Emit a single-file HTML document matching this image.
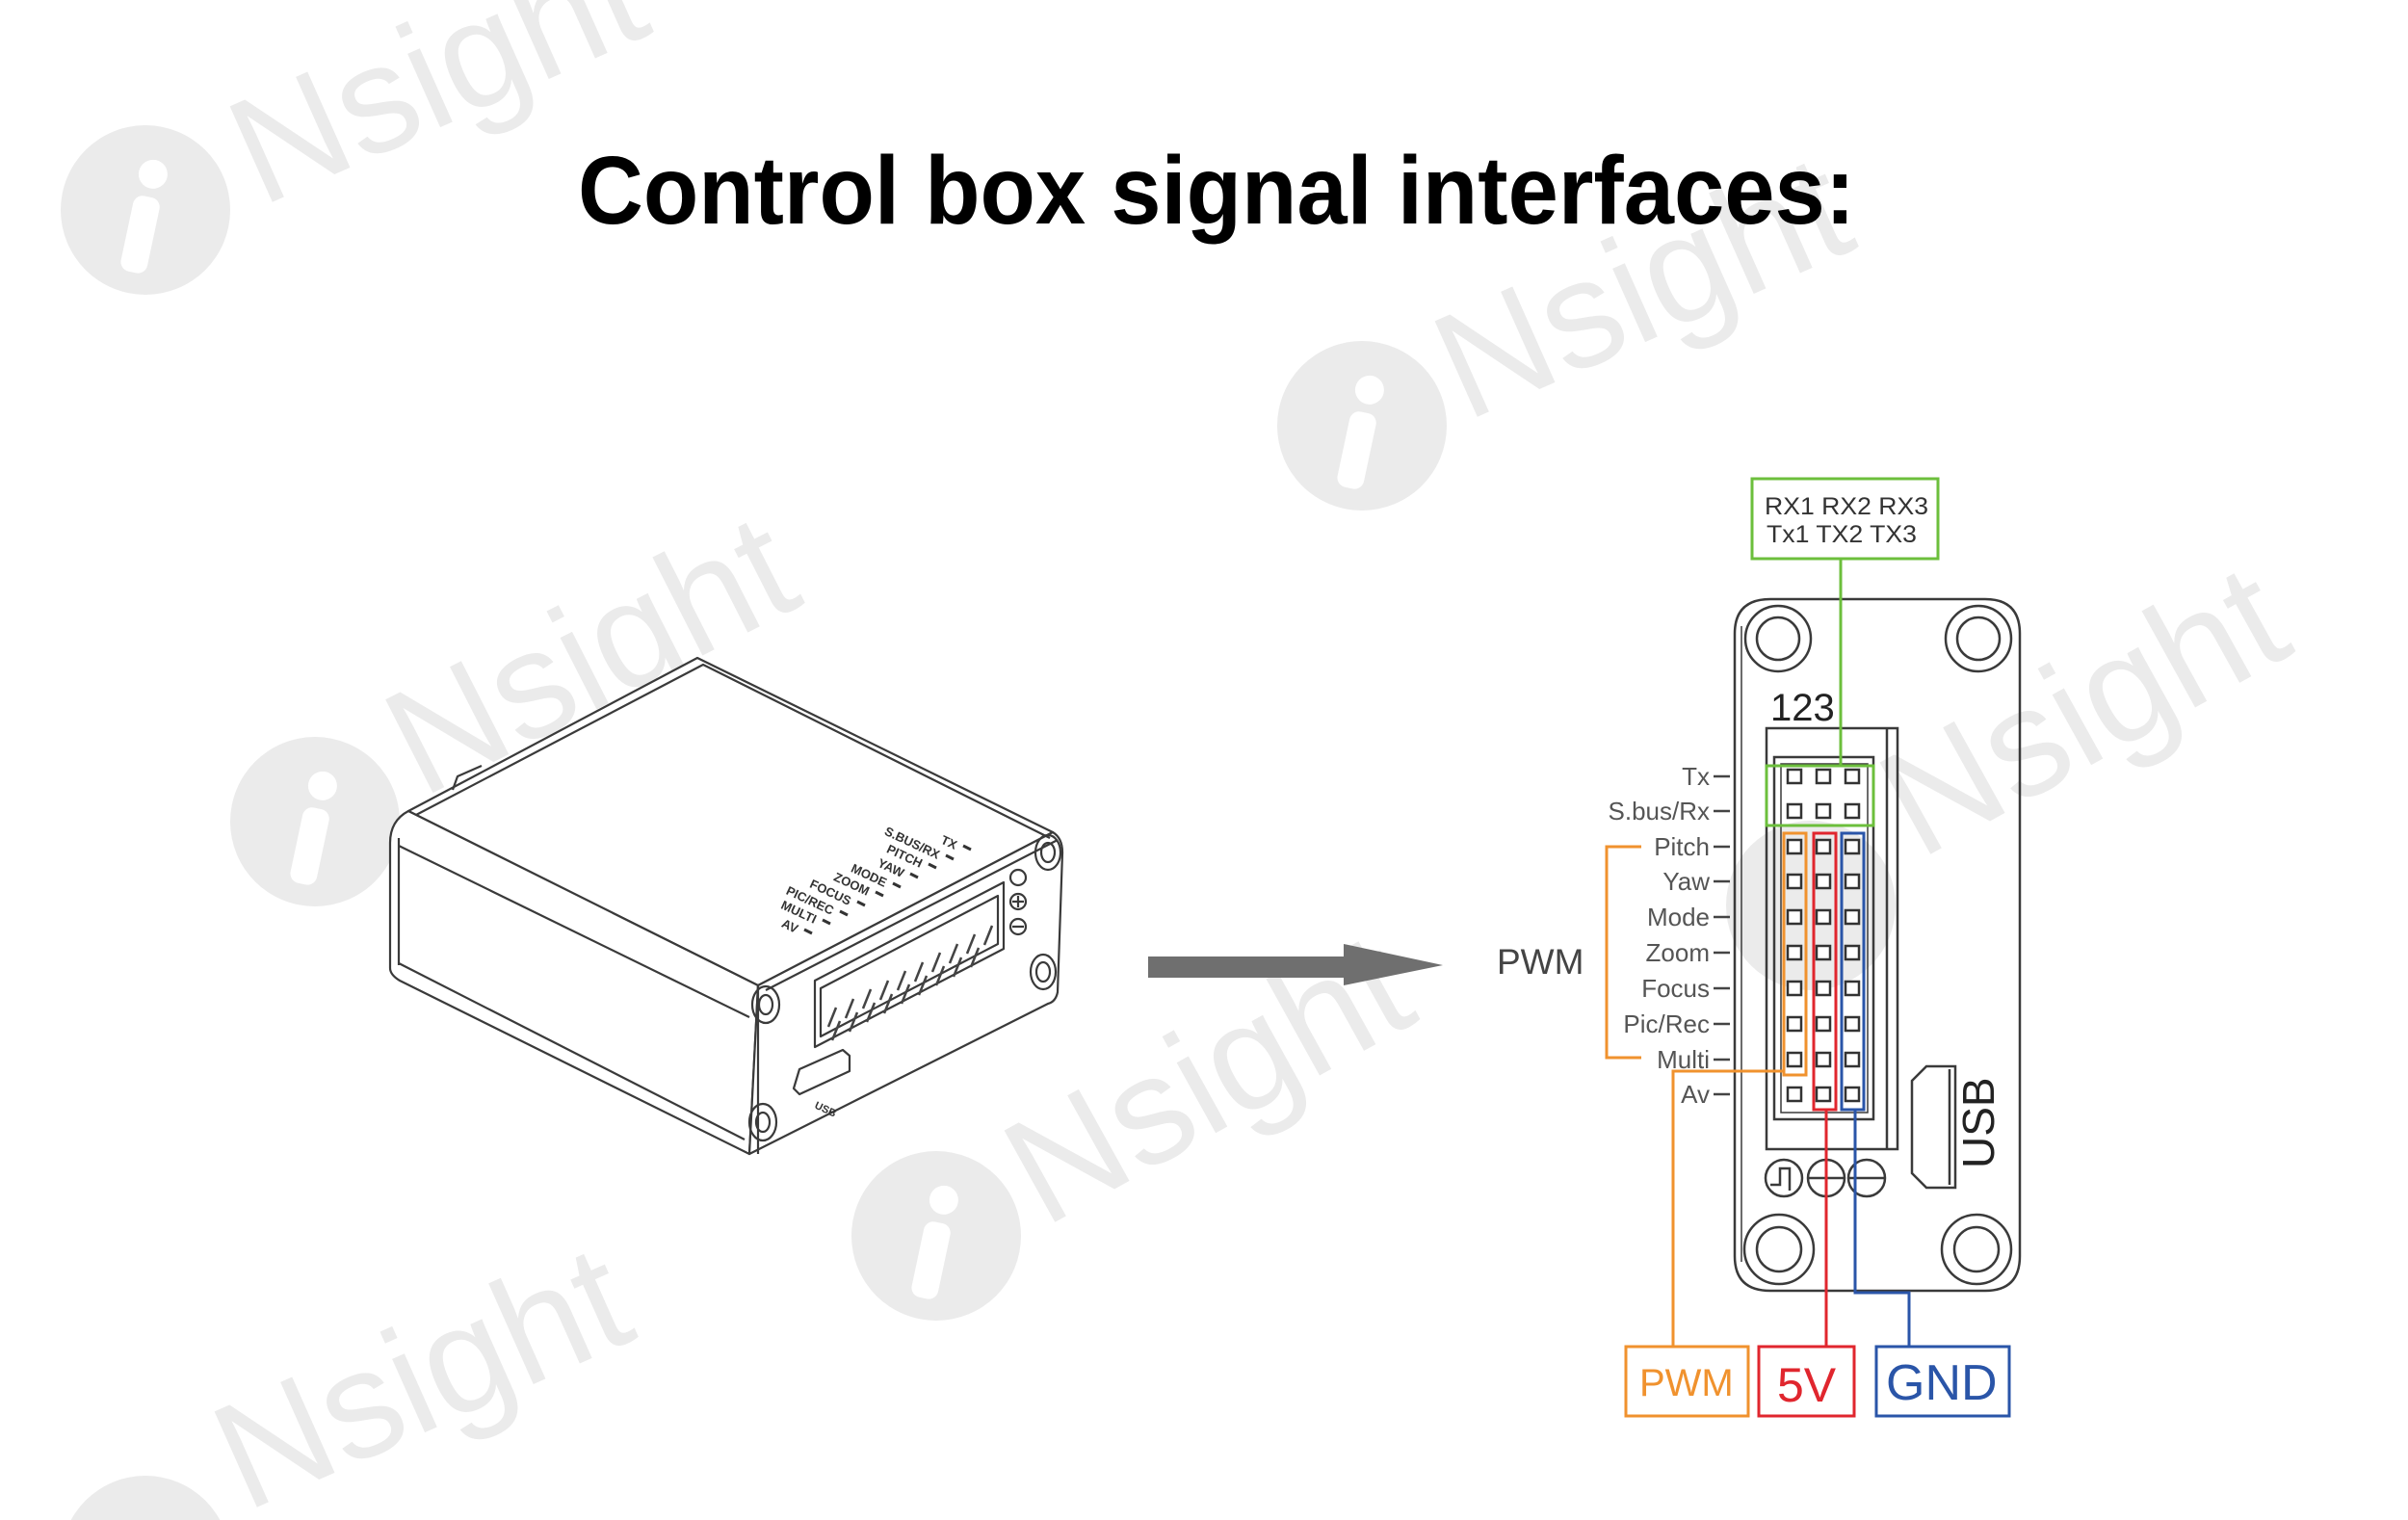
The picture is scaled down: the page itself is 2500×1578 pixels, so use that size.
<!DOCTYPE html>
<html><head><meta charset="utf-8"><style>
html,body{margin:0;padding:0;background:#fff;width:2500px;height:1578px;overflow:hidden}
svg{display:block}
</style></head><body>
<svg width="2500" height="1578" viewBox="0 0 2500 1578" xmlns="http://www.w3.org/2000/svg" font-family="'Liberation Sans', sans-serif">
<defs>
  <g id="row">
    <rect x="1856" y="-7" width="14" height="14"/><rect x="1886" y="-7" width="14" height="14"/><rect x="1916" y="-7" width="14" height="14"/>
  </g>
</defs>
<rect width="2500" height="1578" fill="#fff"/>
<!-- watermarks -->
<g fill="#ebebeb">
  <g transform="translate(151,218)"><circle r="88"/><g transform="rotate(12)" fill="#fff"><circle cx="0" cy="-38" r="15"/><rect x="-14" y="-14" width="28" height="80" rx="10"/></g></g>
  <text x="271" y="215" font-size="158" transform="rotate(-24 271 215)">Nsight</text>
  <g transform="translate(1414,442)"><circle r="88"/><g transform="rotate(12)" fill="#fff"><circle cx="0" cy="-38" r="15"/><rect x="-14" y="-14" width="28" height="80" rx="10"/></g></g>
  <text x="1522" y="438" font-size="158" transform="rotate(-24 1522 438)">Nsight</text>
  <g transform="translate(327,853)"><circle r="88"/><g transform="rotate(12)" fill="#fff"><circle cx="0" cy="-38" r="15"/><rect x="-14" y="-14" width="28" height="80" rx="10"/></g></g>
  <text x="438" y="829" font-size="158" transform="rotate(-27 438 829)">Nsight</text>
  <g transform="translate(1880,940)"><circle r="88"/></g>
  <text x="1993" y="893" font-size="158" transform="rotate(-29 1993 893)">Nsight</text>
  <g transform="translate(972,1283)"><circle r="88"/><g transform="rotate(12)" fill="#fff"><circle cx="0" cy="-38" r="15"/><rect x="-14" y="-14" width="28" height="80" rx="10"/></g></g>
  <text x="1084" y="1275" font-size="158" transform="rotate(-29 1084 1275)">Nsight</text>
  <g transform="translate(151,1620)"><circle r="88"/></g>
  <text x="255" y="1570" font-size="158" transform="rotate(-24 255 1570)">Nsight</text>
</g>

<!-- title -->
<text x="600" y="232" font-size="100" font-weight="bold" fill="#000" textLength="1326" lengthAdjust="spacingAndGlyphs">Control box signal interfaces:</text>

<!-- 3D box -->
<g fill="none" stroke="#3a3a3a" stroke-width="2.2" stroke-linejoin="round">
  <path d="M424,842 L724,683 L1093,864 L787,1023 Z" fill="#fff"/>
  <path d="M424,842 Q405,852 405,875 L405,1005 Q405,1012 415,1018 L778,1198 L787,1023 Z" fill="#fff"/>
  <path d="M787,1023 L1093,864 Q1103,870 1103,885 L1098,1030 Q1096,1040 1088,1042 L778,1198 Z" fill="#fff"/>
  <path d="M414,878 L778,1056"/>
  <path d="M414,1000 L773,1183"/>
  <path d="M414,870 L414,1002"/>
  <path d="M432,846 L730,690 L1090,870"/>
  <path d="M470,820 L475,806 L500,795"/>
  <path d="M795,1028 L1098,872"/>
  <path d="M787,1023 L787,1198"/>
  <ellipse cx="795" cy="1043" rx="14" ry="19"/><ellipse cx="795" cy="1043" rx="7" ry="10"/>
  <ellipse cx="1088" cy="885" rx="13" ry="18"/><ellipse cx="1088" cy="885" rx="7" ry="10"/>
  <ellipse cx="1083" cy="1009" rx="13" ry="18"/><ellipse cx="1083" cy="1009" rx="7" ry="10"/>
  <ellipse cx="792" cy="1165" rx="14" ry="19"/><ellipse cx="792" cy="1165" rx="7" ry="10"/>
  <path d="M846,1018 L1042,916 L1042,985 L846,1087 Z"/>
  <path d="M852,1026 L1036,930 L1036,980 L852,1076 Z"/>
  <circle cx="1057" cy="911" r="8"/><circle cx="1057" cy="936" r="8"/><circle cx="1057" cy="962" r="8"/>
  <path d="M1051,936 h12 M1057,930 v12 M1051,962 h12"/>
  <path d="M830,1110 L875,1090 L882,1096 L882,1112 L830,1136 L824,1130 Z"/>
</g>
<g stroke="#444" stroke-width="2.5">
  <path d="M860,1066 l8,-20 M878,1057 l8,-20 M896,1047 l8,-20 M914,1038 l8,-20 M932,1028 l8,-20 M950,1019 l8,-20 M968,1009 l8,-20 M986,1000 l8,-20 M1004,990 l8,-20 M1022,981 l8,-20"/>
  <path d="M864,1080 l8,-20 M882,1071 l8,-20 M900,1061 l8,-20 M918,1052 l8,-20 M936,1042 l8,-20 M954,1033 l8,-20 M972,1023 l8,-20 M990,1014 l8,-20 M1008,1004 l8,-20"/>
</g>
<g font-size="13" fill="#333" font-weight="bold">
  <text x="991" y="882" text-anchor="end" transform="rotate(25 991 882)">TX</text>
  <text x="973" y="892" text-anchor="end" transform="rotate(25 973 892)">S.BUS/RX</text>
  <text x="955" y="901" text-anchor="end" transform="rotate(25 955 901)">PITCH</text>
  <text x="936" y="911" text-anchor="end" transform="rotate(25 936 911)">YAW</text>
  <text x="918" y="921" text-anchor="end" transform="rotate(25 918 921)">MODE</text>
  <text x="900" y="930" text-anchor="end" transform="rotate(25 900 930)">ZOOM</text>
  <text x="881" y="940" text-anchor="end" transform="rotate(25 881 940)">FOCUS</text>
  <text x="863" y="950" text-anchor="end" transform="rotate(25 863 950)">PIC/REC</text>
  <text x="845" y="959" text-anchor="end" transform="rotate(25 845 959)">MULTI</text>
  <text x="826" y="969" text-anchor="end" transform="rotate(25 826 969)">AV</text>
  <text x="845" y="1150" transform="rotate(25 845 1150)" font-size="11">USB</text>
</g>
<g stroke="#333" stroke-width="3">
  <path d="M1000,878 l8,4 M982,888 l8,4 M964,897 l8,4 M945,907 l8,4 M927,917 l8,4 M909,926 l8,4 M890,936 l8,4 M872,946 l8,4 M854,955 l8,4 M835,965 l8,4"/>
</g>

<!-- arrow -->
<path d="M1192,993 L1395,993 L1395,980 L1498,1002 L1395,1023 L1395,1015 L1192,1015 Z" fill="#6f6f6f"/>

<!-- PWM left label -->
<text x="1554" y="1011" font-size="37" fill="#444">PWM</text>

<!-- board -->
<g fill="none" stroke="#3a3a3a" stroke-width="2.5">
  <path d="M1838,622 H2061 Q2097,622 2097,658 V1304 Q2097,1340 2061,1340 H1838 Q1801,1340 1801,1304 V658 Q1801,622 1838,622 Z"/>
  <path d="M1808,650 V1310" stroke-width="1.5"/>
  <circle cx="1846" cy="663" r="34"/><circle cx="1846" cy="663" r="22"/>
  <circle cx="2054" cy="663" r="34"/><circle cx="2054" cy="663" r="22"/>
  <circle cx="1847" cy="1297" r="36"/><circle cx="1847" cy="1297" r="23"/>
  <circle cx="2052" cy="1297" r="36"/><circle cx="2052" cy="1297" r="23"/>
  <rect x="1834" y="756" width="136" height="437"/>
  <path d="M1959,756 V1193"/>
  <rect x="1842" y="786" width="103" height="376"/>
  <rect x="1849" y="793" width="90" height="362" stroke-width="1.5"/>
  <circle cx="1852" cy="1223" r="19"/><circle cx="1896" cy="1223" r="19"/><circle cx="1938" cy="1223" r="19"/>
  <path d="M1838,1230 H1848 V1213 H1858 V1236"/>
  <path d="M1877,1223 H1915 M1896,1204 V1242 M1919,1223 H1957"/>
  <path d="M2000,1107 H2030 V1233 H2000 L1985,1218 V1122 Z"/>
  <path d="M2024,1110 V1230"/>
</g>
<text x="0" y="0" font-size="46" fill="#222" transform="translate(2070,1213) rotate(-90)">USB</text>
<text x="1838" y="748" font-size="40" fill="#222">123</text>

<!-- pins -->
<g fill="#fff" stroke="#333" stroke-width="2.5">
  <use href="#row" y="806"/><use href="#row" y="842"/><use href="#row" y="879"/><use href="#row" y="915"/><use href="#row" y="952"/>
  <use href="#row" y="989"/><use href="#row" y="1026"/><use href="#row" y="1063"/><use href="#row" y="1100"/><use href="#row" y="1136"/>
</g>

<!-- labels -->
<g font-size="26" fill="#555" text-anchor="end">
  <text x="1775" y="815">Tx</text>
  <text x="1775" y="851">S.bus/Rx</text>
  <text x="1775" y="888">Pitch</text>
  <text x="1775" y="924">Yaw</text>
  <text x="1775" y="961">Mode</text>
  <text x="1775" y="998">Zoom</text>
  <text x="1775" y="1035">Focus</text>
  <text x="1775" y="1072">Pic/Rec</text>
  <text x="1775" y="1109">Multi</text>
  <text x="1775" y="1145">Av</text>
</g>
<g stroke="#444" stroke-width="2.5">
  <path d="M1779,806 h17 M1779,842 h17 M1779,879 h17 M1779,915 h17 M1779,952 h17 M1779,989 h17 M1779,1026 h17 M1779,1063 h17 M1779,1100 h17 M1779,1136 h17"/>
</g>

<!-- colored wiring -->
<g fill="none" stroke-width="3">
  <rect x="1819" y="497" width="193" height="83" stroke="#6cbf3c"/>
  <path d="M1911,580 V795" stroke="#6cbf3c"/>
  <rect x="1834" y="795" width="111" height="62" stroke="#6cbf3c"/>
  <rect x="1852" y="865" width="23" height="251" stroke="#f0922e"/>
  <path d="M1704,879 H1668 V1098 H1704" stroke="#f0922e"/>
  <path d="M1852,1112 H1737 V1398" stroke="#f0922e"/>
  <rect x="1883" y="865" width="23" height="287" stroke="#e0262e"/>
  <path d="M1896,1152 V1398" stroke="#e0262e"/>
  <rect x="1912" y="865" width="23" height="287" stroke="#2a55a8"/>
  <path d="M1926,1152 V1342 H1982 V1398" stroke="#2a55a8"/>
  <rect x="1688" y="1398" width="127" height="72" stroke="#f0922e"/>
  <rect x="1826" y="1398" width="99" height="72" stroke="#e0262e"/>
  <rect x="1948" y="1398" width="138" height="72" stroke="#2a55a8"/>
</g>
<g font-size="25" fill="#333">
  <text x="1832" y="534" textLength="170" lengthAdjust="spacingAndGlyphs">RX1 RX2  RX3</text>
  <text x="1834" y="563" textLength="156" lengthAdjust="spacingAndGlyphs">Tx1 TX2  TX3</text>
</g>
<text x="1702" y="1449" font-size="40" fill="#f0922e">PWM</text>
<text x="1845" y="1455" font-size="50" fill="#e0262e">5V</text>
<text x="1958" y="1453" font-size="52" fill="#2a55a8">GND</text>
</svg>
</body></html>
